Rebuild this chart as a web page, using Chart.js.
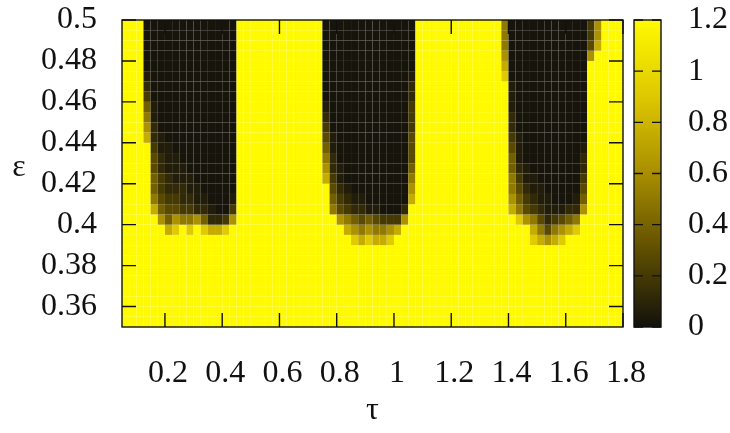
<!DOCTYPE html>
<html>
<head>
<meta charset="utf-8">
<script src="https://cdn.jsdelivr.net/npm/chart.js@4.4.1/dist/chart.umd.min.js"></script>
<style>
html,body{margin:0;padding:0;background:#fff;}
canvas{display:block;}
</style>
</head>
<body>
<canvas id="chart" width="730" height="433"></canvas>
<script>
// ---------------- data ----------------
const tauEdges = [0.05,0.075,0.1,0.125,0.15,0.175,0.2,0.225,0.25,0.275,0.3,0.325,0.35,0.375,0.4,0.425,0.45,0.475,0.5,0.525,0.55,0.575,0.6,0.625,0.65,0.675,0.7,0.725,0.75,0.775,0.8,0.825,0.85,0.875,0.9,0.925,0.95,0.975,1.0,1.025,1.05,1.075,1.1,1.125,1.15,1.175,1.2,1.225,1.25,1.275,1.3,1.325,1.35,1.375,1.4,1.425,1.45,1.475,1.5,1.525,1.55,1.575,1.6,1.625,1.65,1.675,1.7,1.725,1.75,1.775,1.8];
const epsEdges = [0.35,0.355,0.36,0.365,0.37,0.375,0.38,0.385,0.39,0.395,0.4,0.405,0.41,0.415,0.42,0.425,0.43,0.435,0.44,0.445,0.45,0.455,0.46,0.465,0.47,0.475,0.48,0.485,0.49,0.495,0.5];

const xTickValues = [0.2,0.4,0.6,0.8,1.0,1.2,1.4,1.6,1.8];
const xTickLabels = ['0.2','0.4','0.6','0.8','1','1.2','1.4','1.6','1.8'];
const yTickValues = [0.36,0.38,0.40,0.42,0.44,0.46,0.48,0.50];
const yTickLabels = ['0.36','0.38','0.4','0.42','0.44','0.46','0.48','0.5'];
const cbTickValues = [0,0.2,0.4,0.6,0.8,1.0,1.2];
const cbTickLabels = ['0','0.2','0.4','0.6','0.8','1','1.2'];

// cell value codes -> values
const levelCodes  = ['0','1','2','3','4','5','6','7','8','9','Y'];
const levelValues = [0.02,0.06,0.12,0.2,0.28,0.38,0.5,0.62,0.76,0.92,1.2];

// one string per ε row (top row first), one code per τ cell
const zRows = [
 "YYY 0000000000000Y YYYYYYYYYYY 0000000000000Y YYYYYYYYYYY 60000000000037 YYY",
 "YYY 0000000000000Y YYYYYYYYYYY 0000000000000Y YYYYYYYYYYY 60000000000037 YYY",
 "YYY 0000000000000Y YYYYYYYYYYY 0000000000000Y YYYYYYYYYYY 60000000000048 YYY",
 "YYY 0000000000000Y YYYYYYYYYYY 0000000000000Y YYYYYYYYYYY 7000000000007Y YYY",
 "YYY 0000000000000Y YYYYYYYYYYY 0000000000000Y YYYYYYYYYYY 800000000000YY YYY",
 "YYY 1000000000000Y YYYYYYYYYYY 0000000000001Y YYYYYYYYYYY 900000000000YY YYY",
 "YYY 2000000000000Y YYYYYYYYYYY 0000000000002Y YYYYYYYYYYY Y10000000000YY YYY",
 "YYY 3000000000000Y YYYYYYYYYYY 0000000000002Y YYYYYYYYYYY Y10000000000YY YYY",
 "YYY 5100000000000Y YYYYYYYYYYY 1000000000003Y YYYYYYYYYYY Y10000000000YY YYY",
 "YYY 6100000000000Y YYYYYYYYYYY 2000000000003Y YYYYYYYYYYY Y20000000000YY YYY",
 "YYY 7200000000000Y YYYYYYYYYYY 3000000000003Y YYYYYYYYYYY Y20000000000YY YYY",
 "YYY 8210000000000Y YYYYYYYYYYY 4100000000004Y YYYYYYYYYYY Y31000000000YY YYY",
 "YYY Y311000000000Y YYYYYYYYYYY 5100000000004Y YYYYYYYYYYY Y41000000001YY YYY",
 "YYY Y421100000000Y YYYYYYYYYYY 6200000000004Y YYYYYYYYYYY Y51000000002YY YYY",
 "YYY Y421110000000Y YYYYYYYYYYY 7210000000005Y YYYYYYYYYYY Y52100000002YY YYY",
 "YYY Y532111000000Y YYYYYYYYYYY 8310000000006Y YYYYYYYYYYY Y63110000003YY YYY",
 "YYY Y532221100000Y YYYYYYYYYYY Y421000000007Y YYYYYYYYYYY Y64211000004YY YYY",
 "YYY Y643322110001Y YYYYYYYYYYY Y532110000008Y YYYYYYYYYYY Y75321100015YY YYY",
 "YYY Y854433221003Y YYYYYYYYYYY Y64322110002YY YYYYYYYYYYY Y86432111227YY YYY",
 "YYY YY75766752237Y YYYYYYYYYYY YY7654543337YY YYYYYYYYYYY YY976423456YYY YYY",
 "YYY YYY89Y9Y9889YY YYYYYYYYYYY YYY87676678YYY YYYYYYYYYYY YYYY8646789YYY YYY",
 "YYY YYYYYYYYYYYYYY YYYYYYYYYYY YYYY989889YYYY YYYYYYYYYYY YYYY98789YYYYY YYY",
 "YYY YYYYYYYYYYYYYY YYYYYYYYYYY YYYYYYYYYYYYYY YYYYYYYYYYY YYYYYYYYYYYYYY YYY",
 "YYY YYYYYYYYYYYYYY YYYYYYYYYYY YYYYYYYYYYYYYY YYYYYYYYYYY YYYYYYYYYYYYYY YYY",
 "YYY YYYYYYYYYYYYYY YYYYYYYYYYY YYYYYYYYYYYYYY YYYYYYYYYYY YYYYYYYYYYYYYY YYY",
 "YYY YYYYYYYYYYYYYY YYYYYYYYYYY YYYYYYYYYYYYYY YYYYYYYYYYY YYYYYYYYYYYYYY YYY",
 "YYY YYYYYYYYYYYYYY YYYYYYYYYYY YYYYYYYYYYYYYY YYYYYYYYYYY YYYYYYYYYYYYYY YYY",
 "YYY YYYYYYYYYYYYYY YYYYYYYYYYY YYYYYYYYYYYYYY YYYYYYYYYYY YYYYYYYYYYYYYY YYY",
 "YYY YYYYYYYYYYYYYY YYYYYYYYYYY YYYYYYYYYYYYYY YYYYYYYYYYY YYYYYYYYYYYYYY YYY",
 "YYY YYYYYYYYYYYYYY YYYYYYYYYYY YYYYYYYYYYYYYY YYYYYYYYYYY YYYYYYYYYYYYYY YYY"
];

// ---------------- palette (black -> yellow) ----------------
const palStops  = [0, 0.3, 0.6, 0.9, 1.2];
const palColors = [[18,17,12],[95,78,0],[168,142,0],[222,200,0],[255,250,0]];
function rgb(c){ return 'rgb(' + c.map(Math.round).join(',') + ')'; }
function pal(v){
  if (v <= palStops[0]) return rgb(palColors[0]);
  for (let k = 1; k < palStops.length; k++) {
    if (v <= palStops[k]) {
      const t = (v - palStops[k-1]) / (palStops[k] - palStops[k-1]);
      const a = palColors[k-1], b = palColors[k];
      return rgb([a[0]+(b[0]-a[0])*t, a[1]+(b[1]-a[1])*t, a[2]+(b[2]-a[2])*t]);
    }
  }
  return rgb(palColors[palColors.length-1]);
}

// ---------------- datasets: one floating-bar row per ε band ----------------
const nCols = tauEdges.length - 1;
const datasets = zRows.map((row, r) => {
  const codes = row.replace(/ /g, '').split('');
  if (codes.length !== nCols) throw new Error('row ' + r + ' has ' + codes.length + ' cells');
  const j = zRows.length - 1 - r;
  const vals = codes.map(c => levelValues[levelCodes.indexOf(c)]);
  return {
    label: 'eps ' + epsEdges[j],
    data: vals.map((v, i) => ({ x: (tauEdges[i] + tauEdges[i+1]) / 2, y: [epsEdges[j], epsEdges[j+1]], v: v })),
    backgroundColor: vals.map(pal),
    borderWidth: 0,
    grouped: false,
    barPercentage: 1,
    categoryPercentage: 1,
    inflateAmount: 0
  };
});

const FONT = { family: '"Liberation Serif", "Times New Roman", serif', size: 32 };
const INK = '#111';

const frame = {
  id: 'frame',
  afterDraw(chart) {
    const { ctx, chartArea: a, scales: { x, y, cb } } = chart;
    ctx.save();
    // colour box
    const cbL = a.right + 11, cbW = 27;
    const cbTop = cb.getPixelForValue(1.2), cbBot = cb.getPixelForValue(0);
    const g = ctx.createLinearGradient(0, cbBot, 0, cbTop);
    palStops.forEach((s, k) => g.addColorStop((s - palStops[0]) / (palStops[palStops.length-1] - palStops[0]), rgb(palColors[k])));
    ctx.fillStyle = g;
    ctx.fillRect(cbL, cbTop, cbW, cbBot - cbTop);
    ctx.strokeStyle = INK;
    ctx.lineWidth = 1.4;
    ctx.beginPath();
    cbTickValues.forEach(v => {
      const p = cb.getPixelForValue(v);
      ctx.moveTo(cbL, p); ctx.lineTo(cbL + 9, p);
      ctx.moveTo(cbL + cbW, p); ctx.lineTo(cbL + cbW - 9, p);
    });
    ctx.stroke();
    ctx.strokeRect(cbL, cbTop, cbW, cbBot - cbTop);

    // plot ticks (inside, mirrored)
    ctx.beginPath();
    xTickValues.forEach(v => {
      const p = x.getPixelForValue(v);
      ctx.moveTo(p, a.bottom); ctx.lineTo(p, a.bottom - 14);
      ctx.moveTo(p, a.top); ctx.lineTo(p, a.top + 14);
    });
    yTickValues.forEach(v => {
      const p = y.getPixelForValue(v);
      ctx.moveTo(a.left, p); ctx.lineTo(a.left + 14, p);
      ctx.moveTo(a.right, p); ctx.lineTo(a.right - 14, p);
    });
    ctx.stroke();
    ctx.strokeRect(a.left, a.top, a.right - a.left, a.bottom - a.top);

    // y-axis title (upright)
    ctx.fillStyle = INK;
    ctx.font = FONT.size + 'px ' + FONT.family;
    ctx.textAlign = 'center';
    ctx.textBaseline = 'middle';
    ctx.fillText('ε', 19, (a.top + a.bottom) / 2 - 6);
    ctx.restore();
  }
};

new Chart(document.getElementById('chart'), {
  type: 'bar',
  data: { datasets },
  options: {
    responsive: false,
    animation: false,
    devicePixelRatio: 1,
    events: [],
    layout: { padding: { top: 20, left: 0, right: 0, bottom: 0 } },
    plugins: { legend: { display: false }, tooltip: { enabled: false } },
    scales: {
      x: {
        type: 'linear', min: 0.05, max: 1.8, offset: false,
        grid: { display: false, offset: false, drawTicks: false },
        border: { display: false },
        afterBuildTicks: s => { s.ticks = xTickValues.map(v => ({ value: v })); },
        ticks: { callback: (v, i) => xTickLabels[i], font: FONT, color: INK, padding: 27, labelOffset: 3, maxRotation: 0, autoSkip: false },
        title: { display: true, text: 'τ', font: FONT, color: INK, padding: { top: 0, bottom: 3 } },
        afterFit: s => { s.height = 106; s.paddingLeft = 0; s.paddingRight = 0; }
      },
      y: {
        type: 'linear', min: 0.35, max: 0.5, beginAtZero: false,
        grid: { display: false, drawTicks: false },
        border: { display: false },
        afterBuildTicks: s => { s.ticks = yTickValues.map(v => ({ value: v })); },
        ticks: { callback: (v, i) => yTickLabels[i], font: FONT, color: INK, padding: 25, autoSkip: false },
        afterFit: s => { s.width = 122; s.paddingTop = 0; s.paddingBottom = 0; }
      },
      cb: {
        type: 'linear', position: 'right', min: 0, max: 1.2,
        grid: { display: false, drawTicks: false },
        border: { display: false },
        afterBuildTicks: s => { s.ticks = cbTickValues.map(v => ({ value: v })); },
        ticks: { callback: (v, i) => cbTickLabels[i], font: FONT, color: INK, padding: 65, autoSkip: false },
        afterFit: s => { s.width = 107; s.paddingTop = 0; s.paddingBottom = 0; }
      }
    }
  },
  plugins: [frame]
});
</script>
</body>
</html>
